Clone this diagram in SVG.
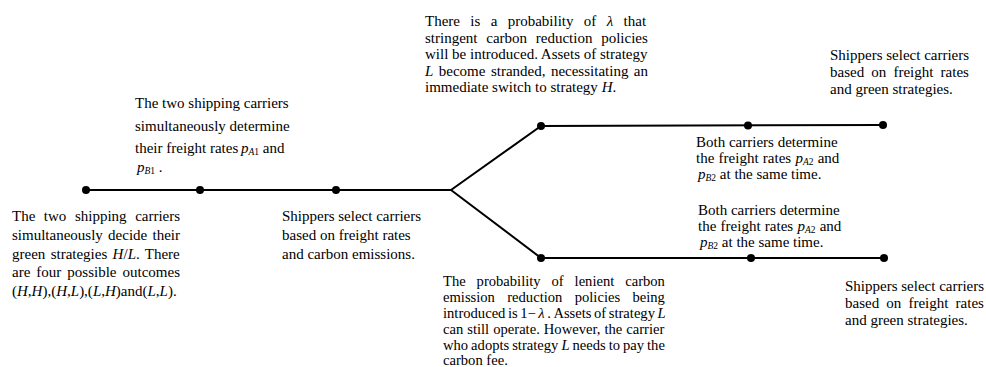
<svg xmlns="http://www.w3.org/2000/svg" width="986" height="367" viewBox="0 0 986 367">
<style>
text{font-family:"Liberation Serif","Times New Roman",serif;font-size:15px;fill:#000}
.i{font-style:italic}
.sub{font-size:9.5px}
.sm{font-size:14.6px}
.ln{stroke:#000;stroke-width:2;fill:none}
.dot{fill:#000}
</style>
<rect width="986" height="367" fill="#fff"/>
<g id="connectors">
<line class="ln" x1="86" y1="190" x2="451" y2="190"/>
<polyline class="ln" points="451,190 541,126 883,125"/>
<polyline class="ln" points="451,190 541,258 884,258"/>
</g>
<g id="n1">
<circle class="dot" cx="86" cy="190" r="4"/>
<text x="12" y="221" word-spacing="4.8">The two shipping carriers</text>
<text x="12" y="240" word-spacing="1.5">simultaneously decide their</text>
<text x="12" y="258.5" word-spacing="1.57">green strategies <tspan class="i">H</tspan>/<tspan class="i">L</tspan>. There</text>
<text x="12" y="277" word-spacing="2.27">are four possible outcomes</text>
<text x="12" y="295.5">(<tspan class="i">H</tspan>,<tspan class="i">H</tspan>),(<tspan class="i">H</tspan>,<tspan class="i">L</tspan>),(<tspan class="i">L</tspan>,<tspan class="i">H</tspan>)and(<tspan class="i">L</tspan>,<tspan class="i">L</tspan>).</text>
</g>
<g id="n2">
<circle class="dot" cx="200" cy="190" r="4"/>
<text x="135" y="108">The two shipping carriers</text>
<text x="135" y="131">simultaneously determine</text>
<text x="135" y="153">their freight rates <tspan x="241" class="i">p</tspan><tspan class="sub i" dy="2">A</tspan><tspan class="sub">1</tspan><tspan dy="-2"> and</tspan></text>
<text x="137" y="172"><tspan class="i">p</tspan><tspan class="sub i" dy="2">B</tspan><tspan class="sub">1</tspan><tspan dy="-2"> .</tspan></text>
</g>
<g id="n3">
<circle class="dot" cx="336" cy="190" r="4"/>
<text x="282" y="221">Shippers select carriers</text>
<text x="282" y="240">based on freight rates</text>
<text x="282" y="259">and carbon emissions.</text>
</g>
<g id="n4">
<circle class="dot" cx="541" cy="126" r="4"/>
<text x="425" y="26" word-spacing="6.6">There is a probability of <tspan class="i">λ</tspan> that</text>
<text x="425" y="42.5" word-spacing="5">stringent carbon reduction policies</text>
<text x="425" y="59">will be introduced. Assets of strategy</text>
<text x="425" y="75.5" word-spacing="1.7"><tspan class="i">L</tspan> become stranded, necessitating an</text>
<text x="425" y="92">immediate switch to strategy <tspan class="i">H</tspan>.</text>
</g>
<g id="n5">
<circle class="dot" cx="748" cy="125.5" r="4"/>
<text x="696" y="146.5">Both carriers determine</text>
<text x="696" y="162.5" word-spacing="0.5">the freight rates <tspan class="i">p</tspan><tspan class="sub i" dy="2">A</tspan><tspan class="sub">2</tspan><tspan dy="-2"> and</tspan></text>
<text x="698" y="179"><tspan class="i">p</tspan><tspan class="sub i" dy="2">B</tspan><tspan class="sub">2</tspan><tspan dy="-2"> at the same time.</tspan></text>
</g>
<g id="n6">
<circle class="dot" cx="883" cy="125" r="4"/>
<text x="830" y="60">Shippers select carriers</text>
<text x="830" y="77" word-spacing="3.4">based on freight rates</text>
<text x="830" y="94">and green strategies.</text>
</g>
<g id="n7" class="sm">
<circle class="dot" cx="541" cy="258" r="4"/>
<text class="sm" x="443" y="285.5" word-spacing="7.25">The probability of lenient carbon</text>
<text class="sm" x="443" y="301.5" word-spacing="8.7">emission reduction policies being</text>
<text class="sm" x="443" y="317.5" word-spacing="-1.1">introduced is 1− <tspan class="i">λ</tspan> . Assets of strategy <tspan class="i">L</tspan></text>
<text class="sm" x="443" y="333.5" word-spacing="0.38">can still operate. However, the carrier</text>
<text class="sm" x="443" y="349.5" word-spacing="-0.67">who adopts strategy <tspan class="i">L</tspan> needs to pay the</text>
<text class="sm" x="443" y="365">carbon fee.</text>
</g>
<g id="n8">
<circle class="dot" cx="751" cy="258" r="4"/>
<text x="698" y="214.5">Both carriers determine</text>
<text x="698" y="230.5" word-spacing="0.5">the freight rates <tspan class="i">p</tspan><tspan class="sub i" dy="2">A</tspan><tspan class="sub">2</tspan><tspan dy="-2"> and</tspan></text>
<text x="700" y="247"><tspan class="i">p</tspan><tspan class="sub i" dy="2">B</tspan><tspan class="sub">2</tspan><tspan dy="-2"> at the same time.</tspan></text>
</g>
<g id="n9">
<circle class="dot" cx="884" cy="258" r="4"/>
<text x="845" y="291">Shippers select carriers</text>
<text x="845" y="308" word-spacing="3.4">based on freight rates</text>
<text x="845" y="325">and green strategies.</text>
</g>
</svg>
